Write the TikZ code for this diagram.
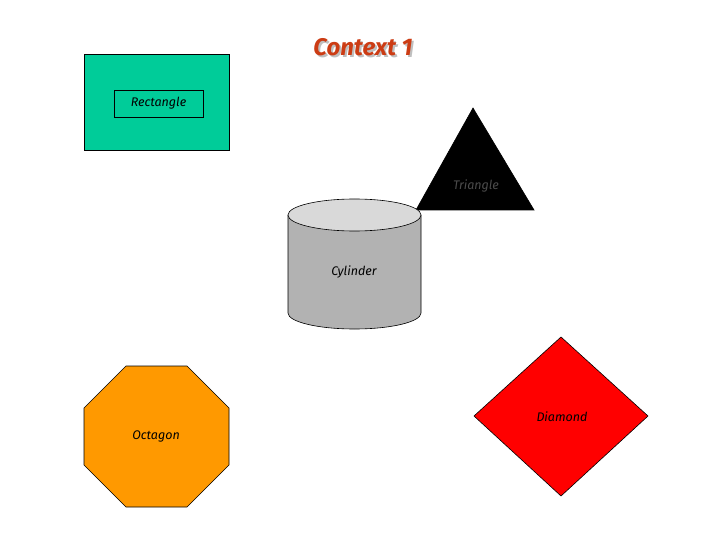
\documentclass[tikz,border=0pt]{standalone}
\usepackage{fontspec}
\setmainfont{Fira Sans}
\begin{document}
\begin{tikzpicture}[x=1pt,y=-1pt,
  lbl/.style={font=\itshape\fontsize{12.5}{14}\selectfont},
  shp/.style={draw=black,line width=0.6pt}]
\useasboundingbox (0,0) rectangle (720,540);
\fill[white] (0,0) rectangle (720,540);
% title
\node[text=black!25,font=\bfseries\itshape\fontsize{24}{28}\selectfont] at (365,49) {Context 1};
\node (title)[text={rgb,255:red,204;green,60;blue,20},font=\bfseries\itshape\fontsize{24}{28}\selectfont] at (363,47) {Context 1};
% rectangle
\draw[shp,fill={rgb,255:red,0;green,204;blue,153}] (84,54) rectangle (229,150);
\node (rect)[draw=black,line width=0.5pt,minimum width=89pt,minimum height=27pt,inner sep=0pt,lbl] at (158.5,103.5) {Rectangle};
% triangle
\draw[shp,fill=black] (473,108) -- (534,210) -- (416,210) -- cycle;
\node (tri)[lbl,text=black!70] at (476,186) {Triangle};
% cylinder
\draw[shp,fill={rgb,255:red,178;green,178;blue,178}] (288,215) -- (288,313) arc[start angle=180,end angle=0,x radius=66.5,y radius=16] -- (421,215);
\draw[shp,fill={rgb,255:red,217;green,217;blue,217}] (354.5,215) ellipse[x radius=66.5,y radius=16];
\node (cyl)[lbl] at (354,272) {Cylinder};
% octagon
\draw[shp,fill={rgb,255:red,255;green,153;blue,0}] (126,366) -- (187,366) -- (229,408) -- (229,465) -- (187,507) -- (126,507) -- (84,465) -- (84,408) -- cycle;
\node (oct)[lbl] at (156,436) {Octagon};
% diamond
\draw[shp,fill=red] (561,337) -- (648,416) -- (561,496) -- (474,416) -- cycle;
\node (dia)[lbl] at (562,417) {Diamond};
\end{tikzpicture}
\end{document}
